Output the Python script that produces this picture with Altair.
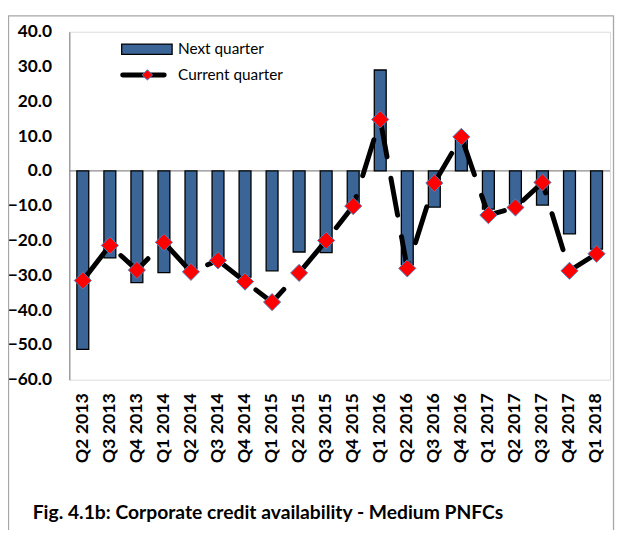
import altair as alt
import pandas as pd

categories = ["Q2 2013", "Q3 2013", "Q4 2013", "Q1 2014", "Q2 2014", "Q3 2014",
              "Q4 2014", "Q1 2015", "Q2 2015", "Q3 2015", "Q4 2015", "Q1 2016",
              "Q2 2016", "Q3 2016", "Q4 2016", "Q1 2017", "Q2 2017", "Q3 2017",
              "Q4 2017", "Q1 2018"]
next_quarter = [-51.3, -25.0, -32.1, -29.2, -28.0, -25.0, -30.5, -28.7, -23.3, -23.5,
                -9.5, 29.0, -27.0, -10.4, 9.0, -11.0, -9.5, -9.8, -18.1, -22.5]
current_quarter = [-31.5, -21.4, -28.5, -20.5, -29.0, -25.7, -31.8, -37.7, -29.3, -20.0,
                   -10.1, 14.8, -28.0, -3.5, 9.8, -12.7, -10.5, -3.3, -28.7, -23.8]
series_names = ["Next quarter", "Current quarter"]
y_ticks = [-60, -50, -40, -30, -20, -10, 0, 10, 20, 30, 40]
title_text = "Fig. 4.1b: Corporate credit availability - Medium PNFCs"

df = pd.DataFrame({"quarter": categories, "next": next_quarter, "current": current_quarter})

FONT = "Lato"
BAR_COLOR = "#3A6596"

x_enc = alt.X(
    "quarter:N", sort=categories, title=None,
    scale=alt.Scale(paddingInner=0.56, paddingOuter=0.28),
    axis=alt.Axis(labelAngle=270, labelFont=FONT, labelFontSize=18, labelFontWeight="bold",
                  labelColor="black", ticks=False, domain=False, grid=False, labelPadding=13),
)
y_scale = alt.Scale(domain=[-60, 40], nice=False, zero=False)
y_axis = alt.Axis(values=y_ticks, format=".1f", labelFont=FONT, labelFontSize=17.5,
                  labelFontWeight="bold", labelColor="black", ticks=False, grid=False,
                  domainColor="#8C8C8C", domainWidth=1.2, labelPadding=18)

frame = alt.Chart(pd.DataFrame({"f": [0]})).mark_rect(
    fillOpacity=0, stroke="#A6A6A6", strokeWidth=1.3
).encode(x=alt.value(-61.5), x2=alt.value(550.5), y=alt.value(-16), y2=alt.value(540))

zero = alt.Chart(pd.DataFrame({"z": [0]})).mark_rule(color="#8C8C8C", strokeWidth=1.2).encode(
    y=alt.Y("z:Q", scale=y_scale, axis=y_axis, title=None)
)

bars = alt.Chart(df).mark_bar(color=BAR_COLOR, stroke="black", strokeWidth=1.3).encode(
    x=x_enc, y=alt.Y("next:Q", scale=y_scale, axis=y_axis, title=None)
)

line = alt.Chart(df).mark_line(
    color="black", strokeWidth=5, strokeDash=[38, 22], strokeCap="round"
).encode(x=x_enc, y=alt.Y("current:Q", scale=y_scale, axis=y_axis, title=None))

points = alt.Chart(df).mark_point(
    shape="diamond", filled=True, fill="#FF0000", stroke="#4F81BD", strokeWidth=1,
    size=300, opacity=1
).encode(x=x_enc, y=alt.Y("current:Q", scale=y_scale, axis=y_axis, title=None))

leg1 = pd.DataFrame({"label": [series_names[0]]})
leg2 = pd.DataFrame({"label": [series_names[1]]})

leg_bar = alt.Chart(leg1).mark_rect(color=BAR_COLOR, stroke="black", strokeWidth=1.3).encode(
    x=alt.value(53), x2=alt.value(104), y=alt.value(12.5), y2=alt.value(23)
)
leg_bar_text = alt.Chart(leg1).mark_text(
    align="left", baseline="middle", font=FONT, fontSize=15.5, color="black"
).encode(x=alt.value(110), y=alt.value(17.5), text="label:N")

leg_line = alt.Chart(leg2).mark_rule(color="black", strokeWidth=5, strokeCap="round").encode(
    x=alt.value(54), x2=alt.value(96), y=alt.value(43.7)
)
leg_pt = alt.Chart(leg2).mark_point(
    shape="diamond", filled=True, fill="#FF0000", stroke="#4F81BD", strokeWidth=1,
    size=110, opacity=1
).encode(x=alt.value(79), y=alt.value(43.7))
leg_line_text = alt.Chart(leg2).mark_text(
    align="left", baseline="middle", font=FONT, fontSize=15.5, color="black"
).encode(x=alt.value(110), y=alt.value(43.7), text="label:N")

title_mark = alt.Chart(pd.DataFrame({"t": [title_text]})).mark_text(
    align="left", baseline="middle", font=FONT, fontSize=19.5, fontWeight="bold", color="black"
).encode(x=alt.value(-37), y=alt.value(487), text="t:N")

chart = alt.layer(
    frame, zero, bars, line, points, leg_bar, leg_bar_text, leg_line, leg_pt, leg_line_text,
    title_mark
).properties(
    width=547, height=352,
    padding={"left": 62, "top": 21, "right": 5, "bottom": 149},
    autosize=alt.AutoSizeParams(type="none"),
).configure_view(stroke=None).configure(background="white")

chart.save("out.html", embed_options={"renderer": "svg", "actions": False})
